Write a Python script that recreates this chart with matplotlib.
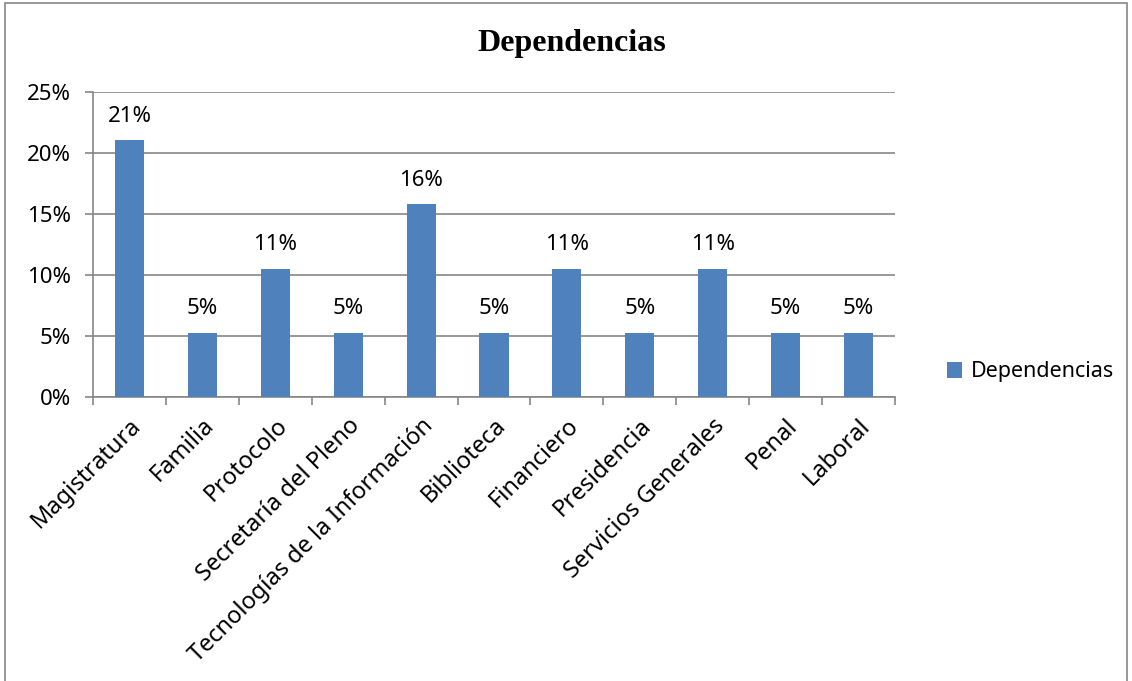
import numpy as np
import matplotlib.pyplot as plt
from matplotlib.patches import Rectangle
from matplotlib.ticker import FuncFormatter

categories = ['Magistratura', 'Familia', 'Protocolo', 'Secretaría del Pleno',
              'Tecnologías de la Información', 'Biblioteca', 'Financiero',
              'Presidencia', 'Servicios Generales', 'Penal', 'Laboral']
counts = [4, 1, 2, 1, 3, 1, 2, 1, 2, 1, 1]
values = [c / sum(counts) for c in counts]
labels = ['21%', '5%', '11%', '5%', '16%', '5%', '11%', '5%', '11%', '5%', '5%']

plt.rcParams['font.family'] = ['Noto Sans', 'DejaVu Sans']

fig = plt.figure(figsize=(11.32, 6.81), dpi=100)
ax = fig.add_axes([93 / 1132, 1 - 397 / 681, 802 / 1132, 305 / 681])

x = np.arange(len(categories))
bars = ax.bar(x, values, width=0.4, color='#4f81bd', label='Dependencias', zorder=3)

for b, lab in zip(bars, labels):
    ax.text(b.get_x() + b.get_width() / 2, b.get_height() + 0.011, lab,
            ha='center', va='bottom', fontsize=16)

ax.set_xlim(-0.5, len(categories) - 0.5)
ax.set_ylim(0, 0.25)
ax.set_yticks(np.arange(0, 0.26, 0.05))
ax.yaxis.set_major_formatter(FuncFormatter(lambda v, p: f'{v * 100:.0f}%'))
ax.grid(axis='y', color='#868686', linewidth=1.2, zorder=0)

ax.set_xticks(np.arange(-0.5, len(categories), 1.0))
ax.set_xticklabels([])
ax.set_xticks(x, minor=True)
ax.set_xticklabels(categories, minor=True, rotation=45, ha='right',
                   rotation_mode='anchor', fontsize=17)
ax.tick_params(axis='x', which='major', length=6, color='#868686', width=1.2)
ax.tick_params(axis='x', which='minor', length=0, pad=12)
ax.tick_params(axis='y', length=6, color='#868686', width=1.2, labelsize=16, pad=10)

for s in ['top', 'right']:
    ax.spines[s].set_visible(False)
for s in ['left', 'bottom']:
    ax.spines[s].set_color('#868686')
    ax.spines[s].set_linewidth(1.2)

fig.text(572 / 1132, 1 - 43 / 681, 'Dependencias', ha='center', va='center',
         fontsize=23, fontweight='bold', family=['Liberation Serif'])

fig.legend(handles=[bars], labels=['Dependencias'], loc='center left',
           bbox_to_anchor=(928 / 1132, 1 - 372 / 681), frameon=False,
           fontsize=15.5, handlelength=0.7, handleheight=0.7, handletextpad=0.4)

fig.patches.append(Rectangle((5 / 1132, -0.01), 1 - 10 / 1132, 1 - 3 / 681 + 0.01,
                             transform=fig.transFigure, fill=False,
                             edgecolor='#868686', linewidth=1.2))

fig.savefig('out.png', dpi=100)
plt.close(fig)
